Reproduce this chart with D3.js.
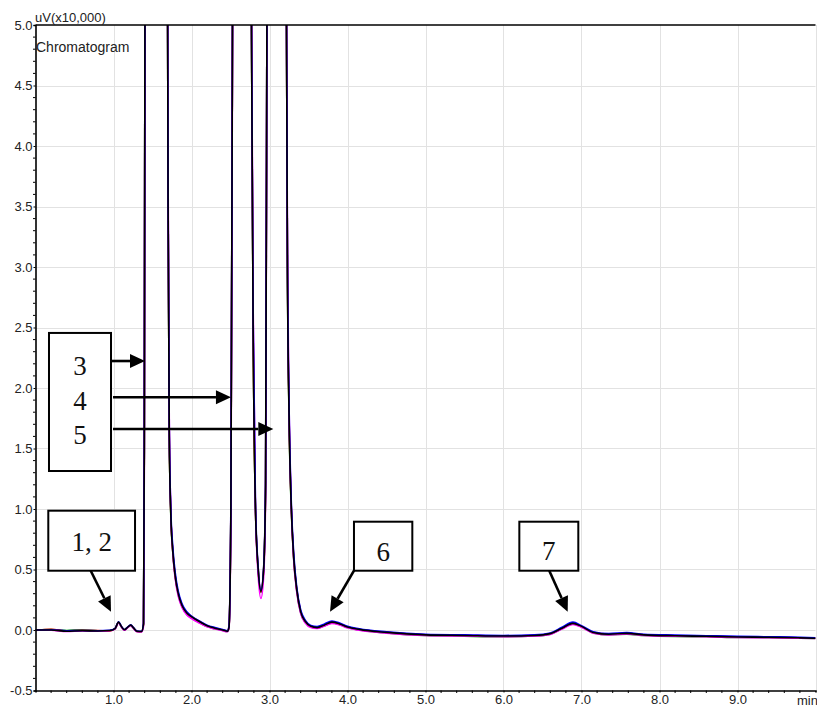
<!DOCTYPE html>
<html>
<head>
<meta charset="utf-8">
<script src="https://cdn.jsdelivr.net/npm/d3@7"></script>
<style>
  html, body { margin: 0; padding: 0; background: #fff; }
  svg { display: block; }
  .tick-label { font-family: "Liberation Sans", Arial, sans-serif; font-size: 13px; fill: #222; }
  .ann-text { font-family: "Liberation Serif", "Times New Roman", serif; font-size: 27px; fill: #111; }
</style>
</head>
<body>
<svg id="chart" width="817" height="706"></svg>
<script>
// Retention time (min) of every sampled point
const times = [
  0.0, 0.2, 0.4, 0.6, 0.8, 0.95, 1.02, 1.065, 1.10, 1.14,
  1.18, 1.22, 1.26, 1.30, 1.36, 1.385, 1.395, 1.405, 1.55, 1.69,
  1.70, 1.715, 1.735, 1.76, 1.79, 1.83, 1.88, 1.94, 2.0, 2.1,
  2.2, 2.3, 2.4, 2.46, 2.48, 2.505, 2.53, 2.65, 2.765, 2.79,
  2.82, 2.855, 2.89, 2.925, 2.95, 2.97, 3.09, 3.215, 3.23, 3.25,
  3.28, 3.31, 3.35, 3.40, 3.46, 3.53, 3.61, 3.70, 3.80, 3.90,
  4.0, 4.15, 4.5, 5.0, 5.5, 6.0, 6.4, 6.6, 6.75, 6.89,
  7.0, 7.15, 7.35, 7.58, 7.8, 8.2, 8.6, 9.0, 9.4, 9.8, 10.0
];

// Detector signal, uV (x10,000), one array per injection
const runBlack = [
  0.000, 0.000, -0.010, -0.006, -0.008, -0.004, 0.012, 0.065, 0.030, 0.002,
  0.022, 0.040, 0.015, -0.010, -0.012, 0.050, 1.500, 6.000, 25.00, 6.000,
  3.500, 1.600, 0.950, 0.650, 0.450, 0.300, 0.200, 0.140, 0.110, 0.070,
  0.035, 0.015, 0.000, -0.010, 0.020, 1.000, 6.000, 20.00, 5.500, 2.500,
  1.000, 0.500, 0.320, 0.500, 1.200, 6.000, 18.00, 5.500, 3.000, 1.800,
  1.000, 0.600, 0.330, 0.150, 0.070, 0.030, 0.020, 0.040, 0.065, 0.050,
  0.025, 0.005, -0.020, -0.040, -0.045, -0.050, -0.045, -0.030, 0.015, 0.055,
  0.030, -0.020, -0.035, -0.028, -0.040, -0.048, -0.052, -0.058, -0.060, -0.065, -0.068
];
const runBlue = [
  0.000, 0.002, -0.006, -0.004, -0.006, -0.002, 0.014, 0.068, 0.032, 0.004,
  0.024, 0.042, 0.017, -0.008, -0.010, 0.060, 1.550, 6.000, 25.00, 6.100,
  3.600, 1.700, 1.000, 0.690, 0.480, 0.320, 0.215, 0.150, 0.115, 0.075,
  0.040, 0.020, 0.004, -0.006, 0.030, 1.050, 6.000, 20.00, 5.600, 2.600,
  1.050, 0.520, 0.330, 0.520, 1.250, 6.000, 18.00, 5.600, 3.100, 1.900,
  1.050, 0.640, 0.350, 0.165, 0.080, 0.038, 0.028, 0.048, 0.075, 0.058,
  0.030, 0.010, -0.015, -0.035, -0.040, -0.045, -0.040, -0.025, 0.022, 0.065,
  0.036, -0.014, -0.030, -0.022, -0.036, -0.042, -0.047, -0.052, -0.056, -0.060, -0.064
];
const runMagenta = [
  -0.002, -0.002, -0.012, -0.008, -0.010, -0.006, 0.008, 0.060, 0.026, -0.002,
  0.018, 0.036, 0.010, -0.014, -0.016, 0.030, 1.300, 5.800, 25.00, 6.300,
  3.800, 1.750, 0.980, 0.640, 0.430, 0.280, 0.185, 0.125, 0.095, 0.058,
  0.026, 0.008, -0.006, -0.014, 0.010, 0.900, 5.800, 20.00, 5.800, 2.700,
  1.000, 0.450, 0.260, 0.440, 1.100, 5.800, 18.00, 5.800, 3.200, 1.900,
  1.000, 0.580, 0.310, 0.135, 0.058, 0.020, 0.012, 0.032, 0.055, 0.042,
  0.018, -0.002, -0.026, -0.045, -0.050, -0.055, -0.050, -0.036, 0.008, 0.046,
  0.022, -0.026, -0.040, -0.033, -0.045, -0.052, -0.056, -0.062, -0.064, -0.068, -0.070
];
const runGreen = [
  0.002, 0.004, -0.004, 0.002, -0.006, -0.006, 0.010, 0.062, 0.028, 0.000,
  0.020, 0.038, 0.012, -0.012, -0.014, 0.045, 1.450, 6.000, 25.00, 6.000,
  3.500, 1.600, 0.940, 0.640, 0.440, 0.290, 0.190, 0.130, 0.100, 0.062,
  0.028, 0.010, -0.004, -0.012, 0.015, 0.980, 6.000, 20.00, 5.500, 2.500,
  1.000, 0.490, 0.310, 0.490, 1.180, 6.000, 18.00, 5.500, 3.000, 1.780,
  0.980, 0.590, 0.320, 0.140, 0.062, 0.024, 0.014, 0.034, 0.058, 0.044,
  0.020, 0.000, -0.024, -0.046, -0.052, -0.056, -0.050, -0.034, 0.010, 0.050,
  0.026, -0.024, -0.040, -0.034, -0.046, -0.054, -0.055, -0.062, -0.063, -0.067, -0.070
];
const runRed = [
  -0.004, 0.006, -0.008, -0.002, -0.004, -0.008, 0.011, 0.063, 0.029, 0.001,
  0.021, 0.039, 0.014, -0.011, -0.013, 0.048, 1.480, 6.000, 25.00, 6.000,
  3.520, 1.620, 0.960, 0.660, 0.455, 0.305, 0.205, 0.145, 0.112, 0.072,
  0.036, 0.016, 0.002, -0.009, 0.022, 1.010, 6.000, 20.00, 5.520, 2.520,
  1.010, 0.505, 0.315, 0.505, 1.210, 6.000, 18.00, 5.520, 3.020, 1.820,
  1.010, 0.610, 0.335, 0.155, 0.072, 0.032, 0.022, 0.042, 0.068, 0.052,
  0.026, 0.006, -0.019, -0.039, -0.044, -0.049, -0.044, -0.029, 0.017, 0.057,
  0.031, -0.019, -0.034, -0.027, -0.039, -0.047, -0.051, -0.057, -0.059, -0.064, -0.067
];

// Drawn bottom to top
const runs = [
  { name: "green", values: runGreen, color: "#00a000" },
  { name: "red", values: runRed, color: "#e00000" },
  { name: "magenta", values: runMagenta, color: "#ff00ff" },
  { name: "blue", values: runBlue, color: "#0000ff" },
  { name: "black", values: runBlack, color: "#000000" }
];

// Axis ticks
const xTickValues = [1, 2, 3, 4, 5, 6, 7, 8, 9];
const xTickLabels = ["1.0", "2.0", "3.0", "4.0", "5.0", "6.0", "7.0", "8.0", "9.0"];
const yTickValues = [-0.5, 0, 0.5, 1, 1.5, 2, 2.5, 3, 3.5, 4, 4.5, 5];
const yTickLabels = ["-0.5", "0.0", "0.5", "1.0", "1.5", "2.0", "2.5", "3.0", "3.5", "4.0", "4.5", "5.0"];

// Peak annotations: box corners and arrows in chart units (min, uV x10,000)
const peakNotes = [
  { lines: ["1, 2"], box: [0.164, 0.986, 1.276, 0.490], textY: [0.73],
    arrows: [[0.708, 0.490, 0.968, 0.151]] },
  { lines: ["3", "4", "5"], box: [0.173, 2.455, 0.968, 1.314], textY: [2.18, 1.89, 1.61],
    arrows: [[0.968, 2.223, 1.404, 2.223], [0.994, 1.923, 2.506, 1.923], [0.994, 1.661, 3.049, 1.661]] },
  { lines: ["6"], box: [4.083, 0.895, 4.831, 0.490], textY: [0.645],
    arrows: [[4.083, 0.490, 3.776, 0.151]] },
  { lines: ["7"], box: [6.203, 0.895, 6.959, 0.490], textY: [0.655],
    arrows: [[6.587, 0.490, 6.823, 0.151]] }
];

const svg = d3.select("#chart");
const plotLeft = 35.5, plotRight = 815.5, plotTop = 25, plotBottom = 690.5;

const x = d3.scaleLinear().domain([0, 10]).range([plotLeft, plotRight]);
const y = d3.scaleLinear().domain([-0.5, 5]).range([plotBottom, plotTop]);

// Grid
const grid = svg.append("g").attr("stroke", "#e2e2e2").attr("stroke-width", 1);
grid.selectAll("line.vx").data(xTickValues.concat([10])).join("line")
  .attr("x1", d => Math.round(x(d)) + 0.5).attr("x2", d => Math.round(x(d)) + 0.5)
  .attr("y1", plotTop).attr("y2", plotBottom);
grid.selectAll("line.hy").data(yTickValues.filter(v => v > -0.5 && v < 5)).join("line")
  .attr("x1", plotLeft).attr("x2", plotRight)
  .attr("y1", d => Math.round(y(d)) + 0.5).attr("y2", d => Math.round(y(d)) + 0.5);

// Traces
svg.append("clipPath").attr("id", "plot-clip")
  .append("rect").attr("x", plotLeft).attr("y", plotTop)
  .attr("width", plotRight - plotLeft).attr("height", plotBottom - plotTop);

const line = d3.line()
  .x(d => x(d[0]))
  .y(d => y(d[1]))
  .curve(d3.curveMonotoneX);

const traces = svg.append("g").attr("clip-path", "url(#plot-clip)");
runs.forEach(run => {
  const pts = times.map((t, i) => [t, run.values[i]]);
  traces.append("path")
    .datum(pts)
    .attr("fill", "none")
    .attr("stroke", run.color)
    .attr("stroke-width", 1.6)
    .attr("stroke-linejoin", "round")
    .attr("d", line);
});

// Frame
svg.append("line").attr("x1", plotLeft).attr("x2", plotRight).attr("y1", plotTop).attr("y2", plotTop)
  .attr("stroke", "#000").attr("stroke-width", 1.3);

// Y axis
const yAxis = d3.axisLeft(y)
  .tickValues(yTickValues)
  .tickSize(2)
  .tickPadding(1)
  .tickFormat((d, i) => yTickLabels[i]);
const gy = svg.append("g").attr("transform", `translate(${plotLeft},0)`).call(yAxis);
gy.attr("font-size", null).attr("font-family", null);
gy.select(".domain").attr("stroke", "#000").attr("stroke-width", 1.6);
gy.selectAll("text").attr("class", "tick-label");
// minor ticks every 0.1
const yMinor = d3.range(-4, 50).map(i => i / 10).filter(v => !yTickValues.some(t => Math.abs(t - v) < 1e-9));
svg.append("g").selectAll("line").data(yMinor).join("line")
  .attr("x1", plotLeft - 2.5).attr("x2", plotLeft)
  .attr("y1", d => y(d)).attr("y2", d => y(d))
  .attr("stroke", "#000").attr("stroke-width", 1);

// X axis
const xAxis = d3.axisBottom(x)
  .tickValues(xTickValues)
  .tickSize(2)
  .tickPadding(2)
  .tickFormat((d, i) => xTickLabels[i]);
const gx = svg.append("g").attr("transform", `translate(0,${plotBottom})`).call(xAxis);
gx.attr("font-size", null).attr("font-family", null);
gx.select(".domain").attr("stroke", "#000").attr("stroke-width", 1.6);
gx.selectAll("text").attr("class", "tick-label");
const xMinor = d3.range(1, 50).map(i => i / 5).filter(v => !xTickValues.some(t => Math.abs(t - v) < 1e-9));
svg.append("g").selectAll("line").data(xMinor).join("line")
  .attr("x1", d => x(d)).attr("x2", d => x(d))
  .attr("y1", plotBottom).attr("y2", plotBottom + 2.5)
  .attr("stroke", "#000").attr("stroke-width", 1);

svg.append("text").attr("class", "tick-label")
  .attr("x", 797).attr("y", plotBottom + 14).text("min");

// Titles
svg.append("text").attr("class", "tick-label")
  .attr("x", 35).attr("y", 22).text("uV(x10,000)");
svg.append("text").attr("class", "tick-label")
  .attr("x", 36).attr("y", 52).style("font-size", "14px").text("Chromatogram");

// Annotations
const ann = svg.append("g");
const headLen = 15, headHalf = 7;
peakNotes.forEach(note => {
  const [x0, y0, x1, y1] = note.box;
  ann.append("rect")
    .attr("x", x(x0)).attr("y", y(y0))
    .attr("width", x(x1) - x(x0)).attr("height", y(y1) - y(y0))
    .attr("fill", "#fff").attr("stroke", "#000").attr("stroke-width", 2);
  note.lines.forEach((txt, i) => {
    ann.append("text").attr("class", "ann-text")
      .attr("x", (x(x0) + x(x1)) / 2).attr("y", y(note.textY[i]))
      .attr("text-anchor", "middle").attr("dominant-baseline", "central")
      .text(txt);
  });
  note.arrows.forEach(a => {
    const sx = x(a[0]), sy = y(a[1]), tx = x(a[2]), ty = y(a[3]);
    const ang = Math.atan2(ty - sy, tx - sx);
    const bx = tx - headLen * Math.cos(ang), by = ty - headLen * Math.sin(ang);
    ann.append("line")
      .attr("x1", sx).attr("y1", sy).attr("x2", bx).attr("y2", by)
      .attr("stroke", "#000").attr("stroke-width", 2.6);
    const px = -Math.sin(ang) * headHalf, py = Math.cos(ang) * headHalf;
    ann.append("path")
      .attr("d", `M${tx},${ty}L${bx + px},${by + py}L${bx - px},${by - py}Z`)
      .attr("fill", "#000");
  });
});
</script>
</body>
</html>
